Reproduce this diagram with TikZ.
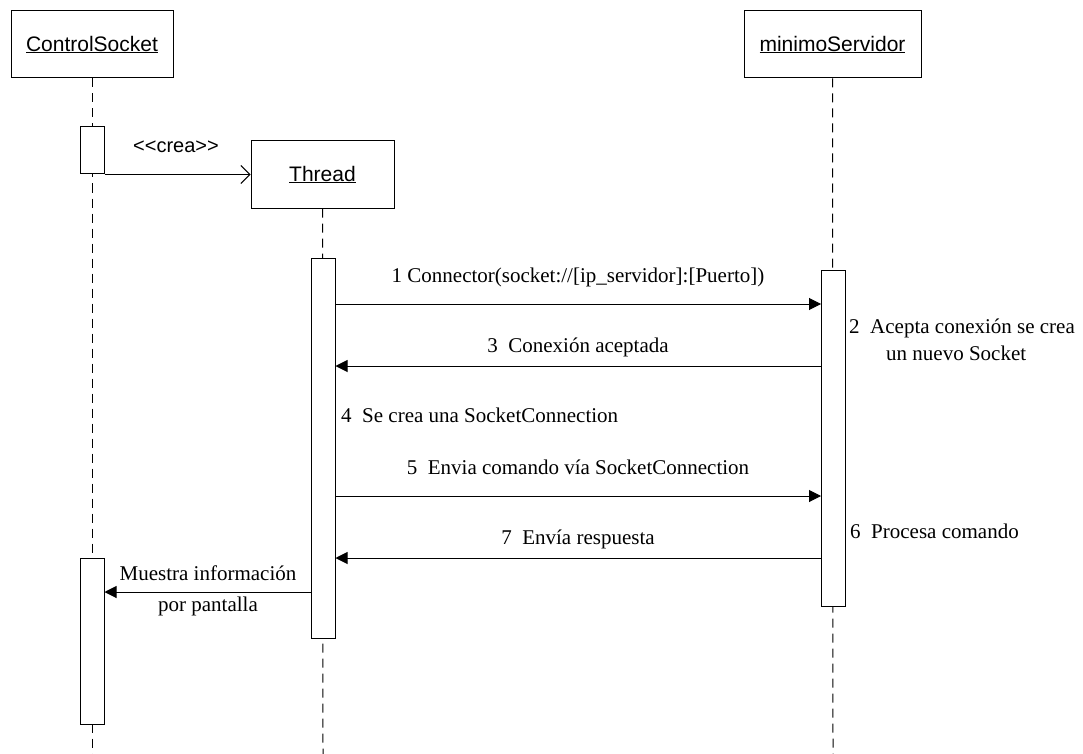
\documentclass[tikz,border=0pt]{standalone}
\usepackage{fontspec}
\setmainfont{Liberation Serif}
\newfontfamily\hdrfont{Liberation Sans}
\usetikzlibrary{arrows.meta}
\begin{document}
\begin{tikzpicture}[x=1pt,y=-1pt,
  obj/.style={draw,line width=1pt,fill=white,minimum width=#1,minimum height=67,inner sep=0pt,
              font=\hdrfont\fontsize{21}{24}\selectfont},
  act/.style={draw,line width=1pt,fill=white,minimum width=24,minimum height=#1,inner sep=0pt},
  life/.style={line width=1pt,dash pattern=on 9pt off 6pt},
  msg/.style={line width=1pt,-{Triangle[length=12pt,width=12pt]}},
  create/.style={line width=1pt,-{Straight Barb[length=9pt,width=18pt]}},
  lbl/.style={font=\fontsize{21}{24}\selectfont,inner sep=0pt},
  lblsans/.style={font=\hdrfont\fontsize{20}{23}\selectfont,inner sep=0pt}]
\useasboundingbox (0,0) rectangle (1083,754);
% objects
\node[obj=162] (cs) at (92,44.5) {\underline{ControlSocket}};
\node[obj=177] (ms) at (832.5,44.5) {\underline{minimoServidor}};
\node[obj=143] (th) at (322.5,174.5) {\underline{Thread}};
% lifeline end points
\coordinate (csEnd) at (92,754);
\coordinate (msEnd) at (833,754);
\coordinate (thEnd) at (323,754);
\draw[life] (cs.south) -- (csEnd);
\draw[life] (th.south) -- (thEnd);
\draw[life] (ms.south) -- (msEnd);
% activation bars
\node[act=47] (csA) at (92,150.5) {};
\node[act=166] (csB) at (92,641) {};
\node[act=380] (thA) at (323,448) {};
\node[act=336] (msA) at (833.5,438) {};
% creation message
\draw[create] (csA.south east) -- (th.west |- csA.south east);
\node[lblsans] (crea) at (176,147) {<<crea>>};
% messages
\draw[msg] (thA.east |- 0,304) -- (msA.west |- 0,304);
\node[lbl] (m1) at (578,277) {1 Connector(socket://[ip\_servidor]:[Puerto])};
\node[lbl,anchor=west] (m2) at (849,328) {2\ \ Acepta conexión se crea};
\node[lbl,anchor=west] (m2b) at (886,353) {un nuevo Socket};
\draw[msg] (msA.west |- 0,366) -- (thA.east |- 0,366);
\node[lbl] (m3) at (578,347) {3\ \ Conexión aceptada};
\node[lbl,anchor=west] (m4) at (341,415) {4\ \ Se crea una SocketConnection};
\draw[msg] (thA.east |- 0,496) -- (msA.west |- 0,496);
\node[lbl] (m5) at (578,467) {5\ \ Envia comando vía SocketConnection};
\node[lbl,anchor=west] (m6) at (850,531) {6\ \ Procesa comando};
\draw[msg] (msA.west |- 0,558) -- (thA.east |- 0,558);
\node[lbl] (m7) at (578,539) {7\ \ Envía respuesta};
\draw[msg] (thA.west |- 0,592) -- (csB.east |- 0,592);
\node[lbl] (m8a) at (208,573) {Muestra información};
\node[lbl] (m8b) at (208,606) {por pantalla};
\end{tikzpicture}
\end{document}
